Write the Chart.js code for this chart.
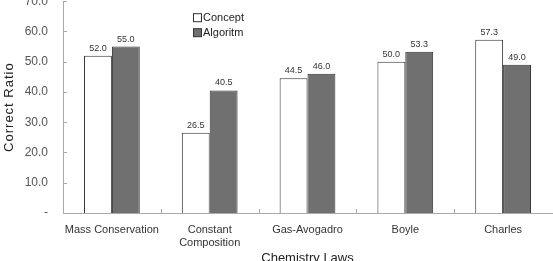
<!DOCTYPE html>
<html>
<head>
<meta charset="utf-8">
<script src="https://cdn.jsdelivr.net/npm/chart.js@4.4.1/dist/chart.umd.min.js"></script>
<style>
    html, body { margin: 0; padding: 0; background: #fff; overflow: hidden; }
    #wrap { position: absolute; left: 0; top: -13px; width: 553px; height: 285px; }
</style>
</head>
<body>
<div id="wrap"><canvas id="chart"></canvas></div>
<script>
const categories = ['Mass Conservation', ['Constant', 'Composition'], 'Gas-Avogadro', 'Boyle', 'Charles'];
const conceptValues = [52.0, 26.5, 44.5, 50.0, 57.3];
const algoritmValues = [55.0, 40.5, 46.0, 53.3, 49.0];
const seriesNames = ['Concept', 'Algoritm'];
const yTicks = [0, 10, 20, 30, 40, 50, 60, 70];
const yTitle = 'Correct Ratio';
const xTitle = 'Chemistry Laws';

const FONT = '"Liberation Sans", Arial, sans-serif';

// value labels above each bar
const valueLabels = {
    id: 'valueLabels',
    afterDatasetsDraw(chart) {
        const ctx = chart.ctx;
        ctx.save();
        ctx.font = '9px ' + FONT;
        ctx.fillStyle = '#333';
        ctx.textAlign = 'center';
        ctx.textBaseline = 'bottom';
        chart.data.datasets.forEach((ds, di) => {
            chart.getDatasetMeta(di).data.forEach((bar, i) => {
                ctx.fillText(ds.data[i].toFixed(1), bar.x, bar.y - 3);
            });
        });
        ctx.restore();
    }
};

// legend boxes inside the plot, inward tick marks, spaced y title
const extras = {
    id: 'extras',
    afterDraw(chart) {
        const ctx = chart.ctx;
        const area = chart.chartArea;
        const x = chart.scales.x;
        const y = chart.scales.y;
        ctx.save();
        ctx.strokeStyle = '#aaa';
        ctx.lineWidth = 1;
        yTicks.forEach(v => {
            const py = Math.round(y.getPixelForValue(v)) + 0.5;
            ctx.beginPath();
            ctx.moveTo(area.left, py);
            ctx.lineTo(area.left + 4, py);
            ctx.stroke();
        });
        for (let i = 1; i < categories.length; i++) {
            const px = Math.round((x.getPixelForTick(i - 1) + x.getPixelForTick(i)) / 2) + 0.5;
            ctx.beginPath();
            ctx.moveTo(px, area.bottom);
            ctx.lineTo(px, area.bottom - 4);
            ctx.stroke();
        }

        const lx = 193, ly = area.top + 17;
        ctx.font = '11px ' + FONT;
        ctx.textBaseline = 'middle';
        ctx.textAlign = 'left';
        chart.data.datasets.forEach((ds, i) => {
            const by = ly + i * 15;
            ctx.fillStyle = ds.backgroundColor;
            ctx.fillRect(lx + 0.5, by - 4.5, 8, 8);
            ctx.strokeStyle = '#333';
            ctx.strokeRect(lx + 0.5, by - 4.5, 8, 8);
            ctx.fillStyle = '#222';
            ctx.fillText(ds.label, lx + 10, by);
        });

        ctx.translate(9, (area.top + area.bottom) / 2);
        ctx.rotate(-Math.PI / 2);
        ctx.font = '13px ' + FONT;
        ctx.letterSpacing = '1px';
        ctx.textAlign = 'center';
        ctx.fillStyle = '#222';
        ctx.fillText(yTitle, 0, 0);
        ctx.restore();
    }
};

new Chart(document.getElementById('chart'), {
    type: 'bar',
    data: {
        labels: categories,
        datasets: [
            {
                label: seriesNames[0],
                data: conceptValues,
                backgroundColor: '#ffffff',
                borderColor: '#333333',
                borderWidth: 1,
                categoryPercentage: 0.57,
                barPercentage: 1,
            },
            {
                label: seriesNames[1],
                data: algoritmValues,
                backgroundColor: '#707070',
                borderColor: '#333333',
                borderWidth: 1,
                categoryPercentage: 0.57,
                barPercentage: 1,
            },
        ],
    },
    options: {
        responsive: true,
        maintainAspectRatio: false,
        animation: false,
        layout: { padding: { top: 0, right: 1, left: 0, bottom: 0 } },
        plugins: {
            legend: { display: false },
            tooltip: { enabled: false },
        },
        scales: {
            x: {
                grid: { display: false },
                border: { color: '#aaa' },
                ticks: {
                    color: '#333',
                    font: { family: FONT, size: 11 },
                    maxRotation: 0,
                    autoSkip: false,
                    padding: 2,
                },
                title: {
                    display: true,
                    text: xTitle,
                    color: '#222',
                    font: { family: FONT, size: 13 },
                    padding: { top: 0, bottom: 6 },
                },
                afterFit: (scale) => { scale.height = 59; },
            },
            y: {
                min: 0,
                max: 70,
                grid: { display: false },
                border: { color: '#aaa' },
                ticks: {
                    stepSize: 10,
                    color: '#555',
                    font: { family: FONT, size: 12 },
                    padding: 7,
                    callback: (v) => (v === 0 ? '-' : v.toFixed(1)),
                },
                afterFit: (scale) => { scale.width = 63; },
            },
        },
    },
    plugins: [valueLabels, extras],
});
</script>
</body>
</html>
